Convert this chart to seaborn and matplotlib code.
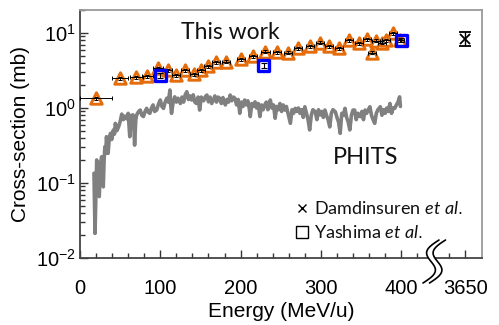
import numpy as np
import pandas as pd
import matplotlib
matplotlib.use("Agg")
import matplotlib.pyplot as plt
import seaborn as sns
from matplotlib.ticker import FixedLocator, FixedFormatter, LogLocator, NullFormatter

# ---------------- data ----------------
# This work (orange triangles)
tri_energy = [20, 50, 70, 84, 97, 109, 120, 131, 142, 151, 160, 169, 182, 201, 216,
              231, 245, 259, 272, 286, 299, 310, 322, 335, 347, 358, 364, 369, 376,
              381, 390, 398]
tri_xs = [1.35, 2.49, 2.57, 2.67, 3.38, 3.21, 2.75, 3.21, 2.84, 3.21, 3.63, 4.07, 4.14,
          4.50, 4.93, 5.63, 5.58, 5.50, 6.25, 6.71, 7.47, 6.71, 6.31, 8.07, 7.29, 8.24,
          5.46, 7.89, 7.42, 8.07, 9.91, 8.07]
tri_xerr = [20, 10, 8, 7, 6, 5, 5, 5, 5, 5, 5, 5, 5, 5, 5, 5, 5, 5, 5, 5, 5, 5, 5, 5,
            5, 5, 5, 5, 5, 5, 5, 5]
tri_yerr = [0.07, 0.12, 0.12, 0.13, 0.16, 0.15, 0.13, 0.15, 0.13, 0.15, 0.17, 0.19,
            0.20, 0.21, 0.23, 0.26, 0.26, 0.26, 0.29, 0.31, 0.35, 0.31, 0.29, 0.38,
            0.34, 0.38, 0.26, 0.37, 0.35, 0.38, 0.46, 0.38]

# Yashima et al. (blue squares)
sq_energy = [100, 229, 400]
sq_xs = [2.75, 3.74, 8.07]
sq_yerr = [0.22, 0.30, 0.5]

# Damdinsuren et al. (3650 MeV/u, drawn after the axis break)
dam_label = "3650"
dam_pos = 480
dam_xs = [8.3]
dam_err_lo = [1.6]
dam_err_hi = [2.0]

# PHITS calculation (grey noisy line)
phits_energy = [17.4, 18.7, 20.8, 22, 24, 25.5, 27, 28, 29, 30, 31, 32, 33, 34, 35, 36.5,
                38, 39.5, 41.5, 43, 44, 46, 48, 50, 52, 54, 56, 58, 60, 62, 64, 66, 67,
                68, 69.5, 70.6, 73, 75, 77, 79, 81, 83, 85, 87, 89, 91, 93, 95.5, 98,
                100, 102, 104, 106, 108, 110, 112, 113, 114, 116, 118, 120, 122, 125, 127,
                129, 131, 133, 135, 137, 139, 141, 143, 145, 147, 149, 151, 154, 156, 158,
                160, 162, 164, 166, 168, 170, 172, 174, 176, 178, 181, 183, 185, 187, 189,
                191, 193, 195, 197, 199, 201, 203, 205, 207, 209, 211, 212, 214, 216, 218,
                220, 222, 224, 226, 228, 230, 232, 234, 237, 239, 241, 243, 245, 247, 249,
                251, 253, 255, 257, 259, 262, 264, 266, 268, 270, 272, 274, 276, 278, 280,
                282, 284, 286, 288, 290, 293, 295, 297, 299, 301, 303, 305, 307, 309, 311,
                313, 315, 318, 320, 322, 324, 326, 328, 330, 332, 334, 336, 338, 340, 342,
                344, 346, 349, 351, 353, 355, 357, 359, 361, 363, 365, 367, 369, 371, 374,
                376, 378, 380, 382, 384, 386, 388, 390, 392, 394, 396, 398, 399]
phits_xs = [0.135, 0.0213, 0.203, 0.12, 0.066, 0.18, 0.224, 0.12, 0.089, 0.2, 0.305, 0.25,
            0.415, 0.3, 0.249, 0.4, 0.46, 0.38, 0.51, 0.45, 0.625, 0.5, 0.56, 0.66, 0.83,
            0.7, 0.78, 0.72, 0.85, 0.415, 0.8, 0.81, 0.6, 0.32, 0.7, 0.81, 0.9, 0.94, 0.8,
            0.77, 0.9, 0.99, 0.88, 0.85, 1.0, 1.1, 0.9, 0.94, 1.15, 1.28, 1.05, 0.99, 1.2,
            1.35, 1.2, 1.74, 1.1, 0.85, 1.2, 1.41, 1.2, 1.35, 1.15, 1.4, 1.2, 1.5, 1.65,
            1.3, 1.45, 1.28, 1.5, 1.2, 1.15, 1.4, 0.94, 1.4, 1.25, 1.41, 1.49, 1.21, 1.4,
            1.15, 1.28, 1.45, 1.2, 1.4, 1.35, 1.15, 1.38, 1.1, 1.3, 1.2, 1.49, 1.25, 1.4,
            1.35, 1.1, 1.3, 0.85, 1.2, 1.05, 1.28, 1.1, 1.25, 0.95, 0.77, 1.15, 1.05, 1.21,
            1.0, 1.15, 0.77, 1.1, 0.95, 1.1, 1.2, 0.95, 1.28, 1.0, 1.1, 0.73, 1.05, 0.95,
            1.15, 0.9, 1.1, 0.94, 1.05, 0.85, 0.625, 0.95, 0.85, 0.99, 0.9, 1.0, 0.85, 0.95,
            0.75, 1.04, 0.85, 0.7, 0.51, 0.8, 0.95, 0.89, 0.7, 0.95, 0.81, 0.9, 0.75, 0.94,
            0.8, 0.7, 0.56, 0.85, 0.95, 0.89, 0.75, 0.65, 0.46, 0.85, 0.8, 0.99, 0.75, 0.65,
            0.51, 0.8, 0.94, 0.94, 0.7, 0.85, 0.77, 0.9, 0.7, 0.94, 0.85, 0.95, 1.04, 0.8,
            0.7, 0.625, 0.85, 0.95, 1.04, 0.8, 0.95, 0.85, 1.0, 0.9, 1.15, 0.85, 1.0, 0.99,
            1.1, 1.2, 1.41, 1.05]

x_major = [0, 100, 200, 300, 400, dam_pos]
x_major_labels = ["0", "100", "200", "300", "400", dam_label]
x_minor = [20, 40, 60, 80, 120, 140, 160, 180, 220, 240, 260, 280, 320, 340, 360, 380,
           420, 460]

ORANGE = "#E46C0A"
BLUE = "#0000FF"
GREY = "#808080"

# ---------------- style ----------------
sns.set_style("white")
plt.rcParams["font.family"] = ["Liberation Sans", "DejaVu Sans"]
plt.rcParams["mathtext.fontset"] = "custom"
plt.rcParams["mathtext.rm"] = "Liberation Sans"
plt.rcParams["mathtext.it"] = "Lato:italic"
plt.rcParams["mathtext.default"] = "regular"
plt.rcParams["axes.unicode_minus"] = False
plt.rcParams["axes.labelcolor"] = "black"

fig = plt.figure(figsize=(4.99, 3.25), dpi=100)
ax = fig.add_axes([80 / 499, 67 / 325, 401.5 / 499, 248 / 325])

# PHITS line
phits_df = pd.DataFrame({"E": phits_energy, "xs": phits_xs})
sns.lineplot(data=phits_df, x="E", y="xs", color=GREY, lw=2.6, estimator=None,
             ax=ax, zorder=2)

# This work triangles
tri_df = pd.DataFrame({"E": tri_energy, "xs": tri_xs})
sns.scatterplot(data=tri_df, x="E", y="xs", marker="^", s=68, facecolor="white",
                edgecolor=ORANGE, linewidth=2.1, ax=ax, zorder=3)
ax.errorbar(tri_energy, tri_xs, xerr=tri_xerr, yerr=tri_yerr, fmt="none",
            ecolor="black", elinewidth=0.7, capsize=1.3, capthick=0.7, zorder=4)

# Yashima squares
sq_df = pd.DataFrame({"E": sq_energy, "xs": sq_xs})
sns.scatterplot(data=sq_df, x="E", y="xs", marker="s", s=62, facecolor="none",
                edgecolor=BLUE, linewidth=2.4, ax=ax, zorder=5)
ax.errorbar(sq_energy, sq_xs, yerr=sq_yerr, fmt="none", ecolor="black",
            elinewidth=0.8, capsize=2.5, capthick=0.8, zorder=6)

# Damdinsuren
ax.errorbar([dam_pos], dam_xs, yerr=[dam_err_lo, dam_err_hi], fmt="x", color="black",
            ms=7, mew=1.3, elinewidth=1.0, capsize=4, capthick=1.0, zorder=6)

# axes
ax.set_yscale("log")
ax.set_xlim(0, 500)
ax.set_ylim(0.01, 20.3)
ax.xaxis.set_major_locator(FixedLocator(x_major))
ax.xaxis.set_major_formatter(FixedFormatter(x_major_labels))
ax.xaxis.set_minor_locator(FixedLocator(x_minor))
ax.yaxis.set_major_locator(LogLocator(base=10, numticks=10))
ax.yaxis.set_minor_locator(LogLocator(base=10, subs=np.arange(2, 10), numticks=20))
ax.yaxis.set_minor_formatter(NullFormatter())

ax.tick_params(which="both", direction="in", color="#333333", labelcolor="black",
               width=1.0, bottom=True, left=True, top=False, right=False,
               labelsize=14.5)
ax.tick_params(which="major", length=5.5)
ax.tick_params(which="minor", length=3.5)
ax.tick_params(axis="x", which="major", pad=15)
ax.tick_params(axis="y", which="major", pad=3)

for side in ["left", "bottom"]:
    ax.spines[side].set_color("#444444")
    ax.spines[side].set_linewidth(1.3)
for side in ["top", "right"]:
    ax.spines[side].set_color("#9a9a9a")
    ax.spines[side].set_linewidth(1.3)

ax.set_xlabel("Energy (MeV/u)", fontsize=15, labelpad=3, color="black")
ax.set_ylabel("Cross-section (mb)", fontsize=15, labelpad=4, color="black")
ax.grid(False)

# annotations
ax.text(187, 10.3, "This work", family="Lato", fontsize=16.5, ha="center",
        va="center", color="#111111")
ax.text(356, 0.222, "PHITS", family="Lato", fontsize=17, ha="center",
        va="center", color="#111111")

# manual legend
ax.plot([276], [0.0464], marker="x", color="black", ms=6, mew=1.0, ls="none")
ax.plot([276], [0.0222], marker="s", mfc="none", mec="black", ms=8, mew=1.0, ls="none")
ax.text(292, 0.0464, r"Damdinsuren $\mathit{et\ al.}$", family="Lato", fontsize=13,
        ha="left", va="center", color="#111111")
ax.text(292, 0.0222, r"Yashima $\mathit{et\ al.}$", family="Lato", fontsize=13,
        ha="left", va="center", color="#111111")

# axis-break symbol (two wavy lines across the x axis)
s = np.linspace(0, 1, 60)
px_y = 240 + 43 * s
px_x1 = 439 - 16 * s - 8 * np.sin(2 * np.pi * s)
px_x2 = px_x1 + 6.5
fx1, fx2 = px_x1 / 499, px_x2 / 499
fy = 1 - px_y / 325
fig.patches.append(plt.Polygon(np.column_stack([np.r_[fx1, fx2[::-1]], np.r_[fy, fy[::-1]]]),
                               closed=True, facecolor="white", edgecolor="none",
                               transform=fig.transFigure, zorder=10))
fig.lines.append(plt.Line2D(fx1, fy, color="black", lw=1.2, transform=fig.transFigure, zorder=11))
fig.lines.append(plt.Line2D(fx2, fy, color="black", lw=1.2, transform=fig.transFigure, zorder=11))

fig.savefig("out.png", dpi=100)
